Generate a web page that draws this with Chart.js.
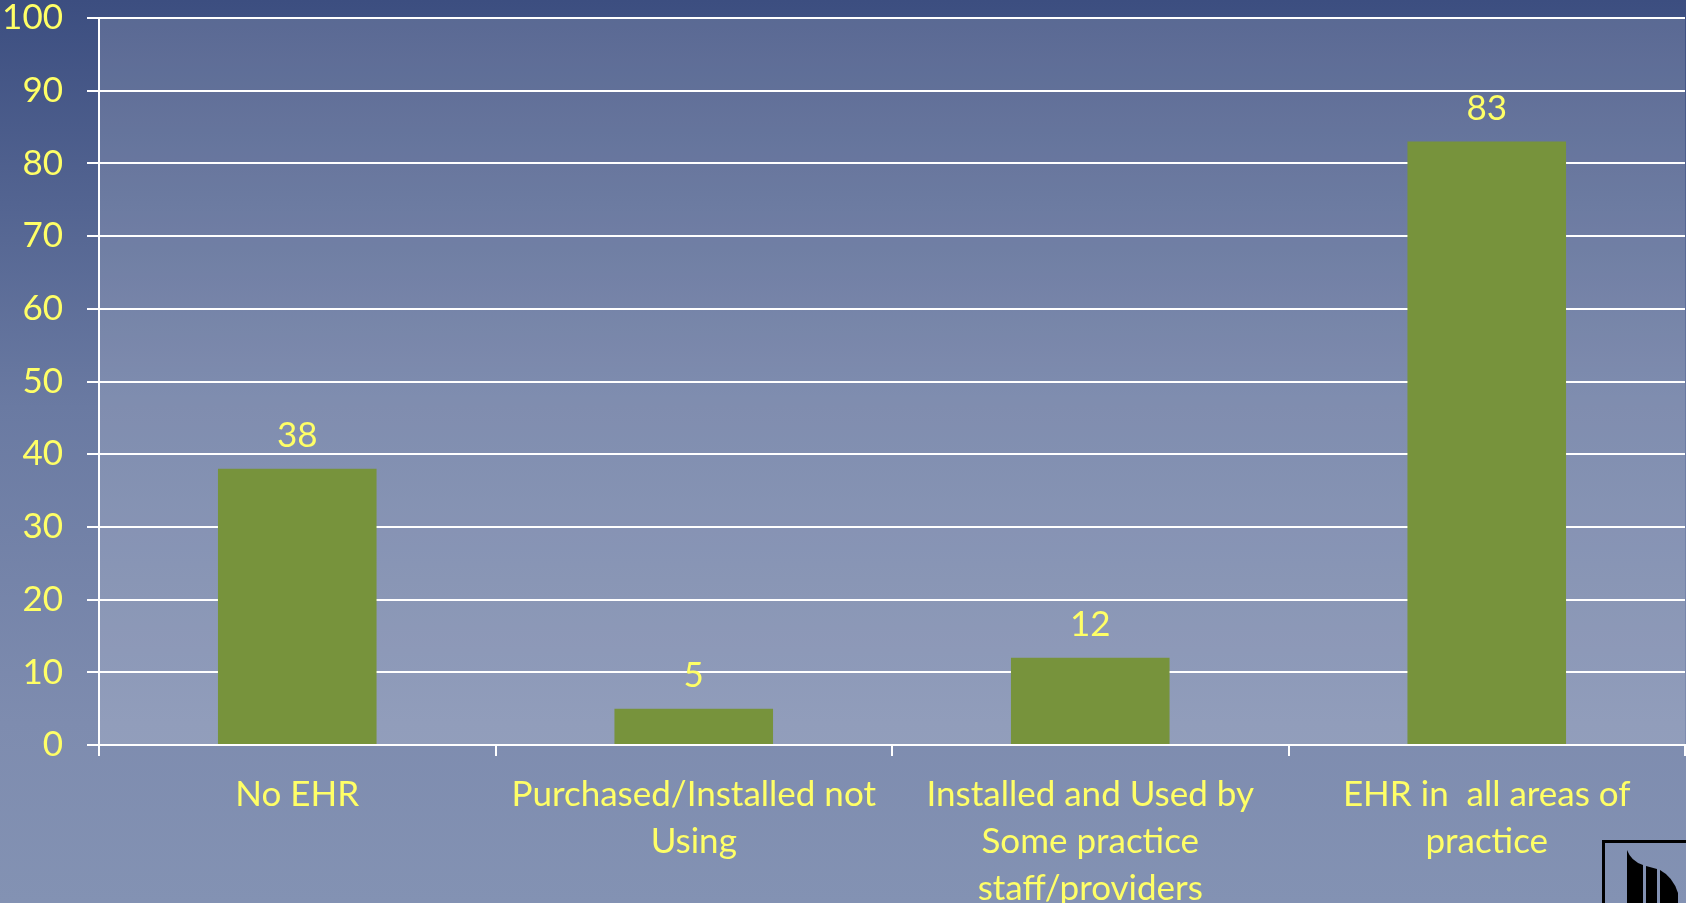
<!DOCTYPE html>
<html>
<head>
<meta charset="utf-8">
<title>EHR adoption</title>
<script src="https://cdn.jsdelivr.net/npm/chart.js@4.4.1/dist/chart.umd.min.js"></script>
<style>
  html, body { margin: 0; padding: 0; }
  body {
    width: 1686px; height: 903px; overflow: hidden; position: relative;
    background: linear-gradient(to bottom, #3c4e80 0%, #6a7aa2 45%, #7e8caf 80%, #8392b3 100%);
  }
  #wrap { position: absolute; left: 0; top: 0; width: 1686px; height: 903px; }
  #logo { position: absolute; left: 1602px; top: 840px; width: 120px; height: 90px;
          border: 3px solid #000; box-sizing: border-box; }
  #logo svg { position: absolute; left: 0; top: 0; }
</style>
</head>
<body>
<div id="wrap"><canvas id="ehrChart"></canvas></div>
<div id="logo">
  <svg width="120" height="90">
    <path d="M22 7 Q26 18 38 22 L38 70 L22 70 Z" fill="#000"/>
    <path d="M41 23 L52 26 L52 70 L41 70 Z" fill="#000"/>
    <path d="M55 27 Q68 34 73 50 L73 70 L55 70 Z" fill="#000"/>
  </svg>
</div>
<script>
// Datos del gráfico
const categories = [
  ['No EHR'],
  ['Purchased/Installed not', 'Using'],
  ['Installed and Used by', 'Some practice', 'staff/providers'],
  ['EHR in  all areas of', 'practice']
];
const values = [38, 5, 12, 83];
const yTicks = [0, 10, 20, 30, 40, 50, 60, 70, 80, 90, 100];

const yellow = '#ffff66';
const fontFamily = 'Lato, "Open Sans", sans-serif';
const fontSize = 35;

// Relleno semitransparente del área de trazado
const plotFill = {
  id: 'plotFill',
  beforeDraw(chart) {
    const { ctx, chartArea: a } = chart;
    ctx.save();
    ctx.fillStyle = 'rgba(255,255,255,0.15)';
    ctx.fillRect(a.left, a.top, a.right - a.left, a.bottom - a.top);
    ctx.restore();
  }
};

// Etiquetas de valor encima de cada barra
const valueLabels = {
  id: 'valueLabels',
  afterDatasetsDraw(chart) {
    const { ctx } = chart;
    const meta = chart.getDatasetMeta(0);
    ctx.save();
    ctx.fillStyle = yellow;
    ctx.font = fontSize + 'px ' + fontFamily;
    ctx.textAlign = 'center';
    ctx.textBaseline = 'alphabetic';
    meta.data.forEach((bar, i) => {
      ctx.fillText(String(values[i]), bar.x, bar.y - 22);
    });
    ctx.restore();
  }
};

Chart.defaults.font.family = fontFamily;
Chart.defaults.font.size = fontSize;
Chart.defaults.color = yellow;

new Chart(document.getElementById('ehrChart'), {
  type: 'bar',
  data: {
    labels: categories,
    datasets: [{
      data: values,
      backgroundColor: '#77933c',
      borderWidth: 0,
      categoryPercentage: 1.0,
      barPercentage: 0.4
    }]
  },
  options: {
    responsive: true,
    maintainAspectRatio: false,
    animation: false,
    layout: { padding: { top: 0, right: 1, left: 0, bottom: 0 } },
    plugins: {
      legend: { display: false },
      tooltip: { enabled: false }
    },
    scales: {
      x: {
        grid: {
          display: true,
          drawOnChartArea: false,
          drawTicks: true,
          tickLength: 11,
          color: '#ffffff',
          lineWidth: 2
        },
        border: { display: true, color: '#ffffff', width: 2 },
        ticks: {
          color: yellow,
          font: { size: fontSize, lineHeight: 1.34 },
          maxRotation: 0,
          autoSkip: false,
          padding: 15
        },
        afterFit(scale) { scale.height = 158; }
      },
      y: {
        min: 0,
        max: 100,
        afterBuildTicks(scale) { scale.ticks = yTicks.map(v => ({ value: v })); },
        grid: {
          color: '#ffffff',
          lineWidth: 2,
          tickLength: 12
        },
        border: { display: true, color: '#ffffff', width: 2 },
        ticks: {
          color: yellow,
          font: { size: fontSize, lineHeight: 1.05 },
          padding: 24
        },
        afterFit(scale) {
          scale.width = 99;
          scale.paddingTop = 18;
          scale.paddingBottom = 18;
        }
      }
    }
  },
  plugins: [plotFill, valueLabels]
});
</script>
</body>
</html>
